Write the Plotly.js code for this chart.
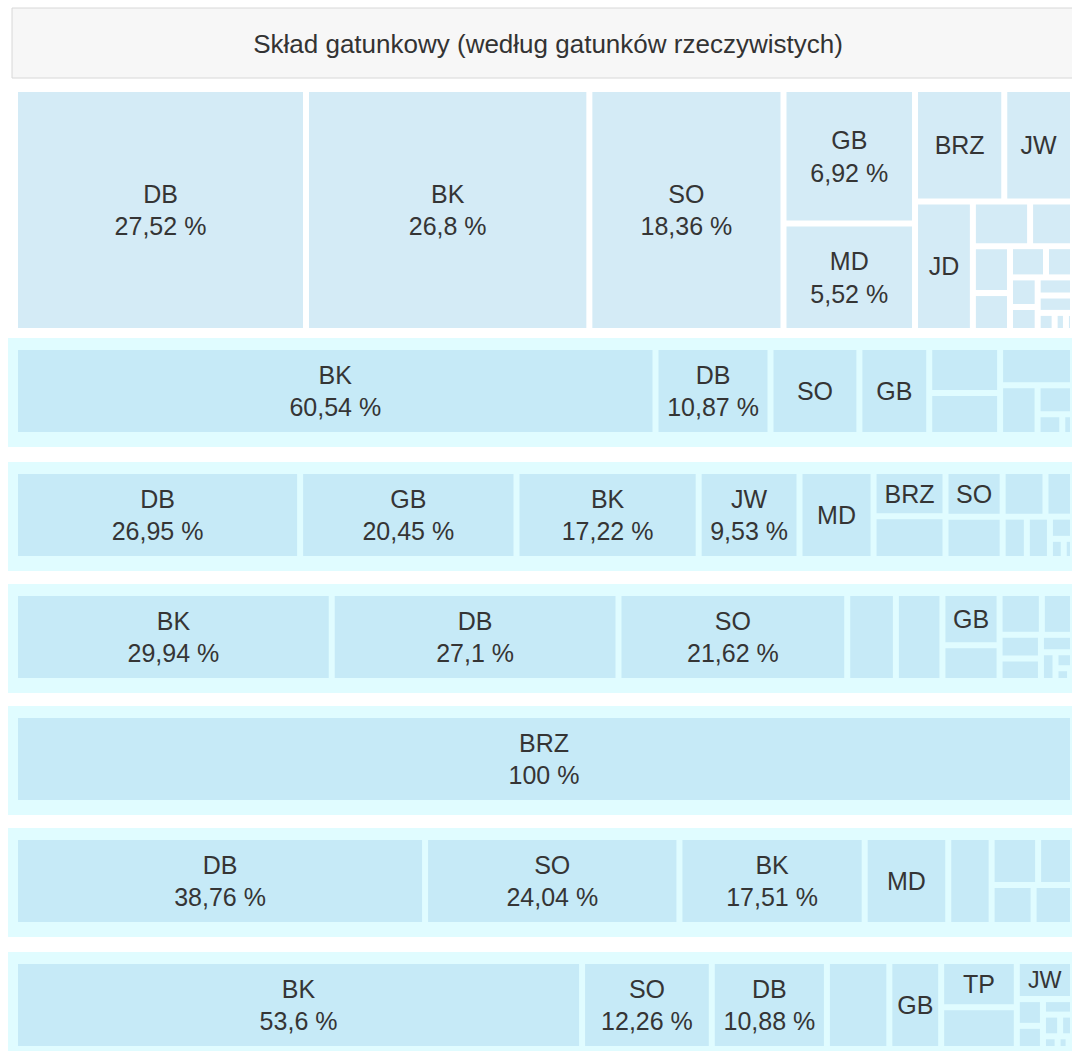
<!DOCTYPE html>
<html><head><meta charset="utf-8">
<script src="https://cdn.plot.ly/plotly-3.0.1.min.js"></script>
<style>html,body{margin:0;padding:0;background:#fff;overflow:hidden}</style>
</head><body><div id="chart" style="width:1072px;height:1051px"></div>
<script>
const chartTitle = "Skład gatunkowy (według gatunków rzeczywistych)";

// Each row: species codes ("" = tile too small for a label), shares in %, and how many leading tiles also show the percentage
const row1Species = ["DB","BK","SO","GB","MD","BRZ","JW","JD","","","","","","","","","","","","",""];
const row1Values  = [27.52,26.8,18.36,6.92,5.52,3.92,3.02,2.93,1.0,0.75,0.68,0.55,0.44,0.33,0.32,0.26,0.25,0.24,0.12,0.08,0.05];
const row1WithPct = 5;

const row2Species = ["BK","DB","SO","GB","","","","","","",""];
const row2Values  = [60.54,10.87,8.4,6.6,3.5,3.2,3.0,2.0,1.1,0.55,0.24];
const row2WithPct = 2;

const row3Species = ["DB","GB","BK","JW","MD","BRZ","","SO","","","","","","","",""];
const row3Values  = [26.95,20.45,17.22,9.53,7.0,3.5,3.3,2.8,2.6,2.1,1.35,1.1,1.05,0.55,0.3,0.2];
const row3WithPct = 4;

const row4Species = ["BK","DB","SO","","","GB","","","","","","","","","",""];
const row4Values  = [29.94,27.1,21.62,4.6,4.4,3.2,2.2,1.9,1.4,1.05,1.0,0.6,0.45,0.3,0.2,0.04];
const row4WithPct = 3;

const row5Species = ["BRZ"];
const row5Values  = [100];
const row5WithPct = 1;

const row6Species = ["DB","SO","BK","MD","","","","",""];
const row6Values  = [38.76,24.04,17.51,7.9,4.1,2.4,1.8,1.8,1.69];
const row6WithPct = 3;

const row7Species = ["BK","SO","DB","","GB","TP","","JW","","","","","","","",""];
const row7Values  = [53.6,12.26,10.88,5.9,4.9,3.75,3.4,2.3,0.75,0.65,0.5,0.4,0.3,0.2,0.15,0.06];
const row7WithPct = 3;

const rows = [
  {species: row1Species, values: row1Values, withPct: row1WithPct},
  {species: row2Species, values: row2Values, withPct: row2WithPct},
  {species: row3Species, values: row3Values, withPct: row3WithPct},
  {species: row4Species, values: row4Values, withPct: row4WithPct},
  {species: row5Species, values: row5Values, withPct: row5WithPct},
  {species: row6Species, values: row6Values, withPct: row6WithPct},
  {species: row7Species, values: row7Values, withPct: row7WithPct}
];

// Layout (pixels)
const W = 1072, H = 1051;
const bandTops = [92, 338, 462, 584, 706, 828, 952];
const bandBottoms = [328, 447, 571, 693, 815, 937, 1051];
const firstTileColor = "#d4ebf6";
const tileColor = "#c6eaf7";
const bandColor = "#e0fcff";
const fontFamily = 'Liberation Sans, Arial, sans-serif';

function fmt(v){ return String(v).replace('.', ',') + ' %'; }

const traces = rows.map((row, r) => {
  const rootId = 'root' + r;
  const ids = [rootId], labels = [''], parents = [''], values = [0], texts = [''];
  const colors = [r === 0 ? '#ffffff' : bandColor];
  row.values.forEach((v, i) => {
    ids.push(rootId + '-' + i);
    labels.push(row.species[i] || ' ');
    parents.push(rootId);
    values.push(v);
    const name = row.species[i];
    texts.push(name ? (i < row.withPct ? name + '<br>' + fmt(v) : name) : '');
    colors.push(r === 0 ? firstTileColor : tileColor);
  });
  const isFirst = r === 0;
  const bottom = bandBottoms[r];
  return {
    type: 'treemap',
    ids, labels, parents, values, text: texts,
    branchvalues: 'remainder',
    sort: true,
    textinfo: 'text',
    textposition: 'middle center',
    textfont: {family: fontFamily, size: 25, color: '#353535'},
    marker: {
      colors,
      line: {width: 0},
      pad: isFirst ? {t: 0, l: 0, r: 0, b: 0} : {t: 12, l: 10, r: 2, b: r === 6 ? 5 : 15}
    },
    leaf: {opacity: 1},
    tiling: {packing: 'squarify', pad: 6},
    pathbar: {visible: false},
    hoverinfo: 'skip',
    domain: {
      x: isFirst ? [18 / W, 1070 / W] : [8 / W, 1],
      y: [Math.max(0, 1 - bottom / H), 1 - bandTops[r] / H]
    }
  };
});

const layout = {
  width: W, height: H,
  margin: {l: 0, r: 0, t: 0, b: 0},
  paper_bgcolor: '#ffffff',
  showlegend: false,
  title: {
    text: chartTitle,
    x: 548 / W, xanchor: 'center',
    y: 1 - 44 / H, yanchor: 'middle',
    font: {family: fontFamily, size: 26, color: '#333333'}
  },
  shapes: [{
    type: 'rect', xref: 'paper', yref: 'paper',
    x0: 12 / W, x1: 1.1, y0: 1 - 78 / H, y1: 1 - 8 / H,
    fillcolor: '#f7f7f7', line: {color: '#d8d8d8', width: 1}, layer: 'below'
  }]
};

Plotly.newPlot('chart', traces, layout, {staticPlot: true, displayModeBar: false});
</script>
</body></html>
